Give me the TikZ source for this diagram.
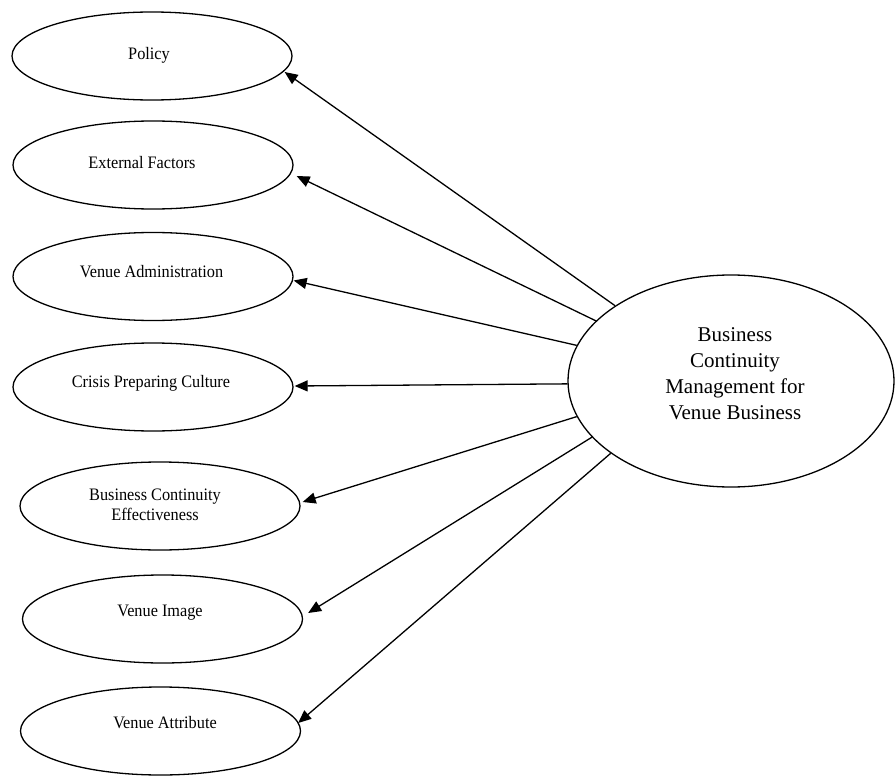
\documentclass[tikz,border=0pt]{standalone}
\usepackage{fontspec}
\setmainfont{Liberation Serif}
\newfontfamily\labelfont[FakeStretch=0.93]{Liberation Serif}
\usetikzlibrary{arrows.meta,shapes.geometric}

\begin{document}
\begin{tikzpicture}[x=1pt,y=-1pt,
  factor/.style={draw,ellipse,line width=1.3pt,minimum width=280pt,minimum height=88pt,inner sep=0pt},
  factortext/.style={font=\labelfont\fontsize{17.5}{20}\selectfont,align=center,inner sep=0pt},
  core/.style={draw,ellipse,line width=1.3pt,minimum width=326pt,minimum height=212pt,inner sep=0pt},
  coretext/.style={font=\fontsize{21}{26}\selectfont,align=center,inner sep=0pt},
  link/.style={line width=1.3pt,-{Triangle[length=13pt,width=11pt]}}]
\useasboundingbox (0,0) rectangle (895,776);

% factor ellipses on the left
\node[factor] (pol) at (152,56) {};
\node[factor] (ext) at (153,165) {};
\node[factor] (adm) at (153,276.5) {};
\node[factor] (cri) at (153,387) {};
\node[factor] (bce) at (160,506) {};
\node[factor] (img) at (162.5,619) {};
\node[factor] (att) at (160.5,731) {};

% factor labels
\node[factortext] (poltext) at (149,55) {Policy};
\node[factortext] (exttext) at (142,163) {External Factors};
\node[factortext] (admtext) at (151.5,272) {Venue Administration};
\node[factortext] (critext) at (151,383.5) {Crisis Preparing Culture};
\node[factortext] (bcetext) at (155,505) {Business Continuity\\Effectiveness};
\node[factortext] (imgtext) at (160,613) {Venue Image};
\node[factortext] (atttext) at (165,723) {Venue Attribute};

% central construct
\node[core] (bcm) at (731,381) {};
\node[coretext] (bcmtext) at (735,373.5) {Business\\Continuity\\Management for\\Venue Business};

% arrows from the central construct to each factor
\draw[link] (bcm.147.5) -- ([shift={(-8,16)}]pol.east);
\draw[link] (bcm.156.5) -- ([shift={(3,11)}]ext.east);
\draw[link] (bcm.167.7) -- ([shift={(0,4)}]adm.east);
\draw[link] (bcm.181.8) -- ([shift={(1,-1)}]cri.east);
\draw[link] (bcm.193.2) -- ([shift={(2,-4)}]bce.east);
\draw[link] (bcm.202.7) -- ([shift={(5,-6)}]img.east);
\draw[link] (bcm.211.4) -- ([shift={(-3,-8)}]att.east);
\end{tikzpicture}
\end{document}
